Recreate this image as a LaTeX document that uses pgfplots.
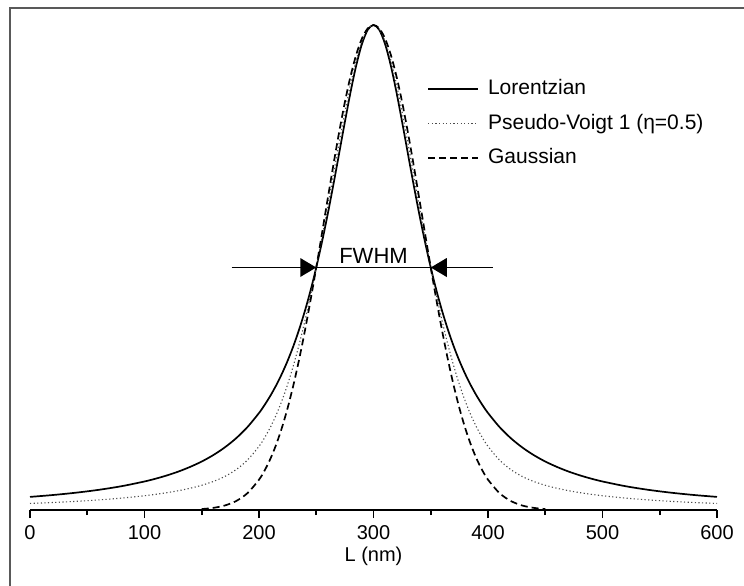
\documentclass[border=0pt]{standalone}
\usepackage{pgfplots}
\pgfplotsset{compat=1.18}
\usepackage{fontspec}
\setmainfont{Liberation Sans}
\begin{document}
\begin{tikzpicture}[x=1pt,y=1pt]
\useasboundingbox (-15,-37.5) rectangle (357,255);
\draw[line width=1pt, black!65] (-10,-60) -- (-10,251) -- (380,251);
\begin{axis}[
  at={(0,0)}, anchor=south west, scale only axis,
  width=343.5pt, height=242.5pt,
  xmin=0, xmax=600, ymin=0, ymax=1, clip=false,
  axis x line=bottom, axis y line=none,
  x axis line style={-, line width=0.9pt},
  xtick={0,100,...,600}, minor xtick={50,150,...,550},
  tick align=outside, major tick length=4pt, minor tick length=2.5pt,
  tick style={black, line width=0.9pt},
  ytick=\empty,
  tick label style={font=\fontsize{10}{12}\selectfont},
  /pgf/number format/assume math mode=true,
  xlabel={L (nm)},
  xlabel style={font=\fontsize{10}{12}\selectfont, yshift=3pt},
  legend style={draw=none, fill=none, at={(axis cs:346.7,0.896)}, anchor=north west,
    row sep=3.75pt, inner sep=0pt, font=\fontsize{10.5}{12}\selectfont,
    nodes={inner sep=1.5pt, text height=8pt, text depth=2.5pt},
    /tikz/every odd column/.style={column sep=3pt}},
  legend cell align=left,
  legend image code/.code={\draw[#1] (0pt,0pt) -- (25pt,0pt);},
]
\addplot[black, line width=0.85pt, smooth] coordinates {
(0,0.027027)(20,0.030902)(40,0.035663)(60,0.041597)(80,0.049116)(100,0.058824)
(110,0.064767)(120,0.071633)(130,0.079618)(140,0.089047)(150,0.1)(160,0.113122)
(170,0.128866)(180,0.147929)(190,0.171233)(200,0.2)(205,0.216920)(210,0.235849)
(215,0.257069)(220,0.280899)(225,0.307692)(230,0.337838)(235,0.371747)(240,0.409836)
(245,0.452489)(250,0.5)(255,0.552486)(260,0.609756)(265,0.671141)(270,0.735294)
(275,0.8)(280,0.862069)(285,0.917431)(290,0.961538)(295,0.990099)(300,1)
(305,0.990099)(310,0.961538)(315,0.917431)(320,0.862069)(325,0.8)(330,0.735294)
(335,0.671141)(340,0.609756)(345,0.552486)(350,0.5)(355,0.452489)(360,0.409836)
(365,0.371747)(370,0.337838)(375,0.307692)(380,0.280899)(385,0.257069)(390,0.235849)
(395,0.216920)(400,0.2)(410,0.171233)(420,0.147929)(430,0.128866)(440,0.113122)
(450,0.1)(460,0.089047)(470,0.079618)(480,0.071633)(490,0.064767)(500,0.058824)
(520,0.049116)(540,0.041597)(560,0.035663)(580,0.030902)(600,0.027027)
};
\addlegendentry{Lorentzian}
\addplot[black!70, line width=0.55pt, dash pattern=on 0.6pt off 1.2pt, smooth] coordinates {
(0,0.013514)(20,0.015451)(40,0.017832)(60,0.020799)(80,0.024558)(100,0.029412)
(110,0.032400)(120,0.035881)(130,0.039976)(140,0.044937)(150,0.050977)(160,0.058744)
(170,0.069046)(180,0.083192)(190,0.103069)(200,0.13125)(205,0.149411)(210,0.170846)
(215,0.195995)(220,0.225238)(225,0.258958)(230,0.297426)(235,0.340837)(240,0.389202)
(245,0.442379)(250,0.5)(255,0.561434)(260,0.625735)(265,0.691583)(270,0.757230)
(275,0.820448)(280,0.878547)(285,0.928477)(290,0.967097)(295,0.991596)(300,1)
(305,0.991596)(310,0.967097)(315,0.928477)(320,0.878547)(325,0.820448)(330,0.757230)
(335,0.691583)(340,0.625735)(345,0.561434)(350,0.5)(355,0.442379)(360,0.389202)
(365,0.340837)(370,0.297426)(375,0.258958)(380,0.225238)(385,0.195995)(390,0.170846)
(395,0.149411)(400,0.13125)(410,0.103069)(420,0.083192)(430,0.069046)(440,0.058744)
(450,0.050977)(460,0.044937)(470,0.039976)(480,0.035881)(490,0.032400)(500,0.029412)
(520,0.024558)(540,0.020799)(560,0.017832)(580,0.015451)(600,0.013514)
};
\addlegendentry{Pseudo-Voigt 1 (η=0.5)}
\addplot[black, line width=0.85pt, dash pattern=on 3.5pt off 2pt, smooth] coordinates {
(150,0.001953)(160,0.004366)(170,0.009225)(180,0.018454)(190,0.034904)(200,0.0625)
(205,0.081902)(210,0.105843)(215,0.134921)(220,0.169576)(225,0.210224)(230,0.257013)
(235,0.309927)(240,0.368567)(245,0.432269)(250,0.5)(255,0.570382)(260,0.641713)
(265,0.712025)(270,0.779165)(275,0.840896)(280,0.895025)(285,0.939523)(290,0.972655)
(295,0.993093)(300,1)(305,0.993093)(310,0.972655)(315,0.939523)(320,0.895025)
(325,0.840896)(330,0.779165)(335,0.712025)(340,0.641713)(345,0.570382)(350,0.5)
(355,0.432269)(360,0.368567)(365,0.309927)(370,0.257013)(375,0.210224)(380,0.169576)
(385,0.134921)(390,0.105843)(395,0.081902)(400,0.0625)(410,0.034904)(420,0.018454)
(430,0.009225)(440,0.004366)(450,0.001953)
};
\addlegendentry{Gaussian}
\draw[black, line width=0.7pt] (axis cs:176,0.5) -- (axis cs:404,0.5);
\fill[black] (axis cs:250,0.5) -- ++(-8pt,4.75pt) -- ++(0pt,-9.5pt) -- cycle;
\fill[black] (axis cs:350,0.5) -- ++(8pt,4.75pt) -- ++(0pt,-9.5pt) -- cycle;
\node[font=\fontsize{11}{13}\selectfont, anchor=base] at (axis cs:300,0.5) [yshift=2pt] {FWHM};
\end{axis}
\end{tikzpicture}
\end{document}
